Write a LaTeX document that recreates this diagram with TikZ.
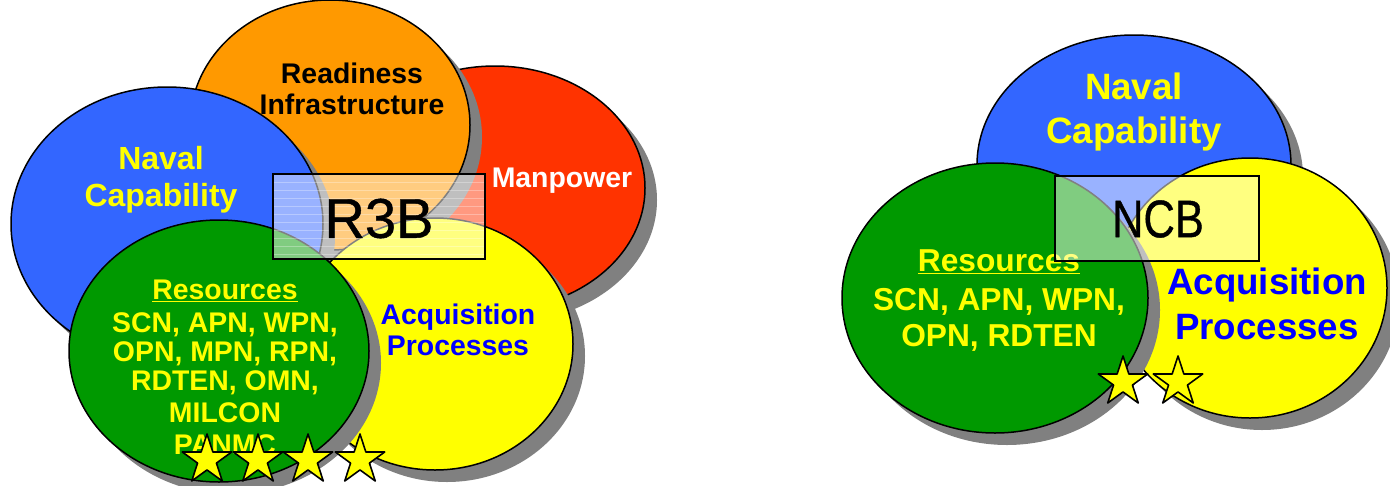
\documentclass[tikz,border=0pt]{standalone}
\usepackage{fontspec}
\setmainfont{Liberation Sans}
\newfontfamily\boxfont[FakeBold=0.8]{Liberation Sans}
\usetikzlibrary{shapes.geometric}
\definecolor{cblue}{RGB}{51,102,255}
\definecolor{corange}{RGB}{255,153,0}
\definecolor{cred}{RGB}{255,51,0}
\definecolor{cgreen}{RGB}{0,153,0}
\definecolor{cyellow}{RGB}{255,255,0}
\definecolor{cshadow}{RGB}{128,128,128}
\definecolor{ctext}{RGB}{0,0,255}
\newcommand{\blob}[6]{% name, cx, cy, rx, ry, colour
  \fill[cshadow] (#2+12,#3+12) ellipse [x radius=#4, y radius=#5];
  \node[blobshape, fill=#6, minimum width=2*#4 pt, minimum height=2*#5 pt] (#1) at (#2,#3) {};
}
\tikzset{
  x=1pt, y=-1pt,
  blobshape/.style={ellipse, draw=black, line width=1.5pt, inner sep=0pt},
  lbl/.style={font=\bfseries\fontsize{#1}{#1}\selectfont, align=center, inner sep=0pt},
  boxlabel/.style={draw=black, line width=2pt, fill=white, fill opacity=.5, text opacity=1, inner sep=0pt},
  starshape/.style={star, star points=5, star point ratio=2.618, draw=black, line width=1.6pt, line join=round, fill=cyellow, minimum size=52pt, inner sep=0pt},
  boxtext/.style={inner sep=0pt, text=black},
}
\begin{document}
\begin{tikzpicture}
\useasboundingbox (0,0) rectangle (1390,485);
\fill[white] (0,0) rectangle (1390,485);
% left group
\blob{lman}{495}{188}{150}{122}{cred}
\blob{lread}{330}{125}{140}{125}{corange}
\blob{lnav}{167}{224}{156}{137}{cblue}
\blob{lacq}{435}{344}{138}{126}{cyellow}
\blob{lres}{219}{351}{150}{131}{cgreen}
\node[lbl=28.4] (treadl) at (352,89) {Readiness\\[2pt]Infrastructure};
\node[lbl=28.4, text=white] (tman) at (562,181) {Manpower};
\node[lbl=32, text=cyellow] (tnavl) at (161,180) {Naval\\[5pt]Capability};
\node[lbl=28.4, text=ctext] (tacql) at (458,330) {Acquisition\\[2pt]Processes};
\node[lbl=28.4, text=cyellow] (tresl) at (225,291) {\underline{Resources}};
\node[lbl=28.4, text=cyellow] (tlistl) at (225,384) {SCN, APN, WPN,\\OPN, MPN, RPN,\\[1pt]RDTEN, OMN,\\[3pt]MILCON\\[4pt]PANMC};
\node[boxlabel, minimum width=212pt, minimum height=85pt] (r3b) at (379,216.5) {};
\foreach \yy in {182,190,...,254}
  \draw[white, opacity=.3, line width=1pt] (274,\yy) -- (484,\yy);
\node[boxtext, font=\boxfont\fontsize{56}{56}\selectfont] (tr3b) at (379,218.5) {R3B};
\node[starshape] (s1) at (207,460) {};
\node[starshape] (s2) at (258,460) {};
\node[starshape] (s3) at (308,460) {};
\node[starshape] (s4) at (360,460) {};
% right group
\blob{rnav}{1134}{165}{157}{130}{cblue}
\blob{racq}{1250}{288}{137}{130}{cyellow}
\blob{rres}{995}{298}{153}{135}{cgreen}
\node[lbl=36.7, text=cyellow] (tnavr) at (1134,112) {Naval\\[8pt]Capability};
\node[lbl=36.7, text=ctext] (tacqr) at (1267,304) {Acquisition\\[8pt]Processes};
\node[lbl=31.7, text=cyellow] (tresr) at (999,262) {\underline{Resources}};
\node[lbl=31.7, text=cyellow] (tlistr) at (999,320) {SCN, APN, WPN,\\[5pt]OPN, RDTEN};
\node[boxlabel, minimum width=204pt, minimum height=85pt] (ncb) at (1157,218.5) {};
\node[boxtext, font=\boxfont\fontsize{53}{53}\selectfont, xscale=.82] (tncb) at (1158,219) {NCB};
\node[starshape] (s5) at (1123,382) {};
\node[starshape] (s6) at (1178,382) {};
\end{tikzpicture}
\end{document}
